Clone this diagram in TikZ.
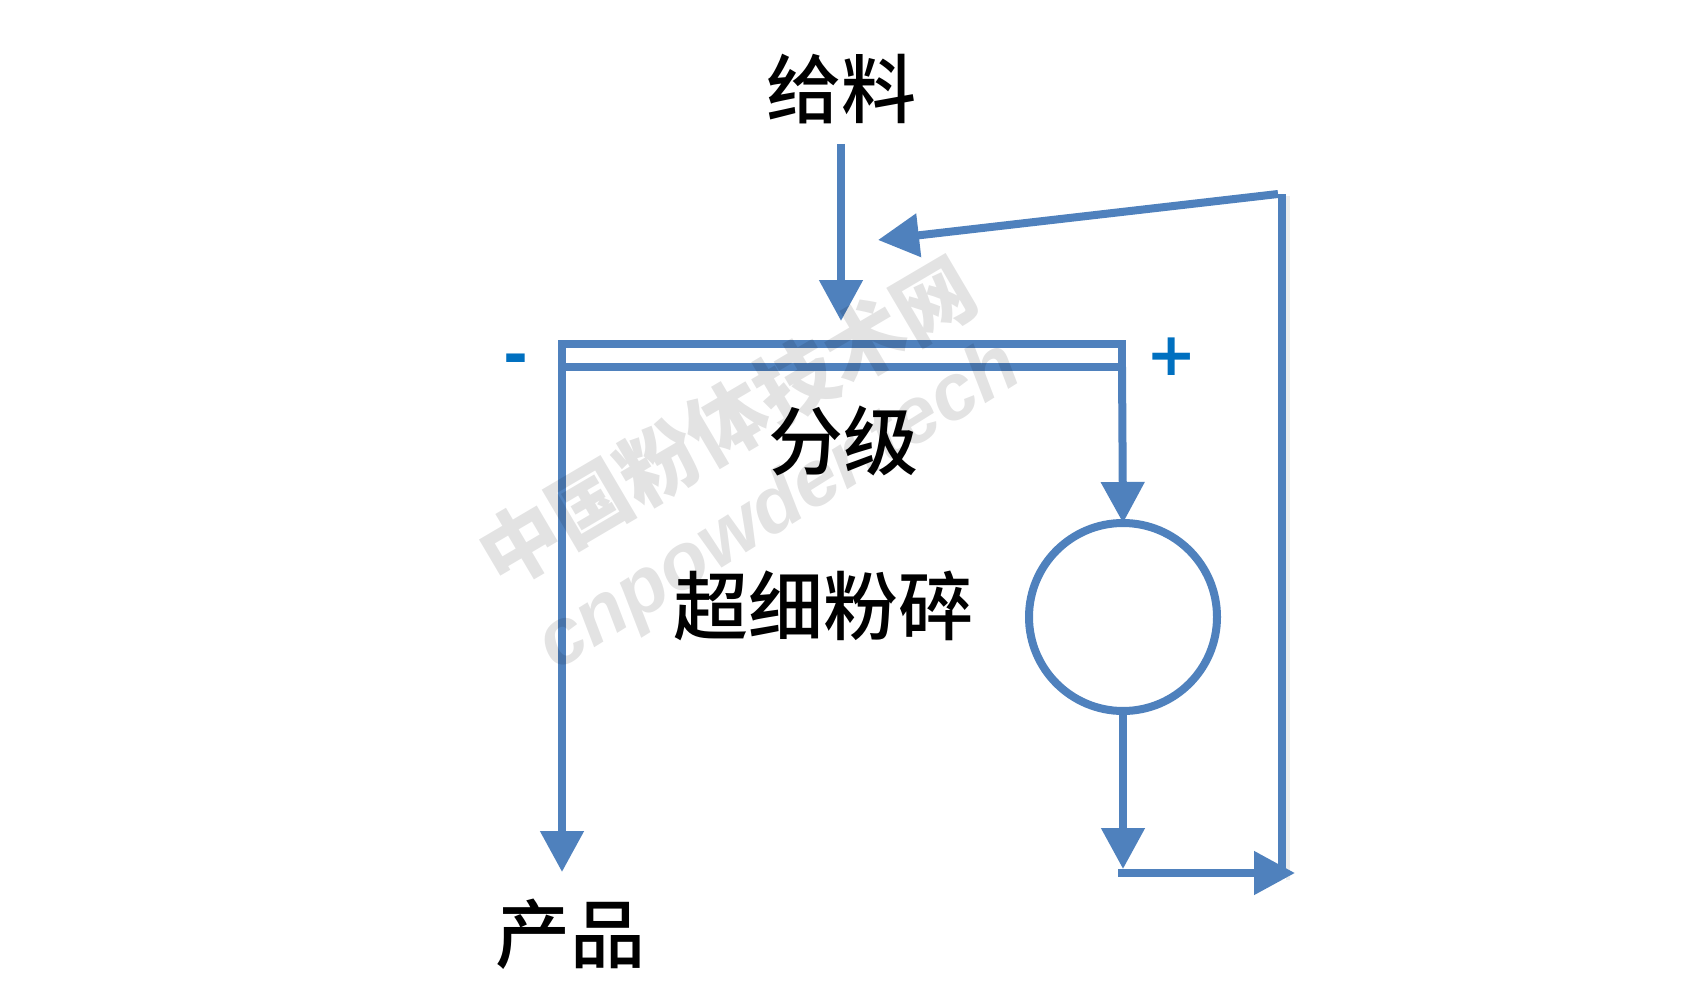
\documentclass[tikz,border=0pt]{standalone}
\usepackage{fontspec}
\usetikzlibrary{arrows.meta}
\newfontfamily\cjk{Noto Sans CJK SC Medium}
\newfontfamily\cjkbold{Noto Sans CJK SC Black}
\newfontfamily\wmlatin{Liberation Sans}
\newfontfamily\signfont{DejaVu Sans Bold}
\definecolor{flow}{HTML}{4F81BD}
\definecolor{sign}{HTML}{0070C0}
\tikzset{
  flowline/.style={draw=flow,line width=8pt},
  flowarrow/.style={flowline,-{Triangle[length=41pt,width=42pt]},shorten >=0pt},
  label/.style={inner sep=0pt,text=black,font=\cjk\fontsize{75}{75}\selectfont},
  signlabel/.style={inner sep=0pt,text=sign,font=\signfont\fontsize{60}{60}\selectfont},
  watermark/.style={inner sep=0pt,text=black,text opacity=0.11}
}
\begin{document}
\begin{tikzpicture}[x=1pt,y=-1pt]
\useasboundingbox[fill=white] (0,0) rectangle (1688,1008);

% shadow of the return line
\fill[black,opacity=0.07] (1286,196) rectangle (1290,880);

% points
\coordinate (feedStart) at (841,144);
\coordinate (feedEnd) at (841,321);
\coordinate (screenTL) at (562,344);
\coordinate (screenTR) at (1122,344);
\coordinate (screenBL) at (562,367);
\coordinate (screenBR) at (1122,367);
\coordinate (productEnd) at (562,872);
\coordinate (millOut) at (1123,869);
\coordinate (jointL) at (1118,873);
\coordinate (jointR) at (1295,873);
\coordinate (returnBottom) at (1282,873);
\coordinate (returnTop) at (1282,194);
\coordinate (returnCorner) at (1278,194);
\coordinate (returnEnd) at (878,240);

\node[flowline,circle,fill=white,inner sep=0pt,outer sep=0pt,minimum size=188pt] (mill) at (1123,617) {};

% connectors
\draw[flowarrow] (feedStart) -- (feedEnd);
\draw[flowline] ([xshift=-4pt]screenTL) -- ([xshift=4pt]screenTR);
\draw[flowline] (screenBL) -- (screenBR);
\draw[flowline] (screenTR) -- (screenBR);
\draw[flowarrow] ([yshift=-4pt]screenTL) -- (productEnd);
\draw[flowarrow] (screenBR) -- (mill.north);
\draw[flowarrow] (mill.south) -- (millOut);
\draw[flowarrow] (jointL) -- (jointR);
\draw[flowline] (returnBottom) -- (returnTop);
\draw[flowarrow] (returnCorner) -- (returnEnd);

% labels
\node[label] (feed) at (841,89) {给料};
\node[label] (classify) at (843,441) {分级};
\node[label] (grind) at (823,606) {超细粉碎};
\node[label] (product) at (570,934) {产品};
\node[signlabel] (minus) at (516,365) {-};
\node[signlabel] (plus) at (1172,357) {+};

% watermark
\node[watermark,rotate=30.5,font=\cjkbold\fontsize{80}{80}\selectfont] (wm1) at (727,422) {中国粉体技术网};
\node[watermark,rotate=32,font=\wmlatin\bfseries\itshape\fontsize{79}{79}\selectfont] (wm2) at (780,508) {cnpowder.tech};
\end{tikzpicture}
\end{document}
